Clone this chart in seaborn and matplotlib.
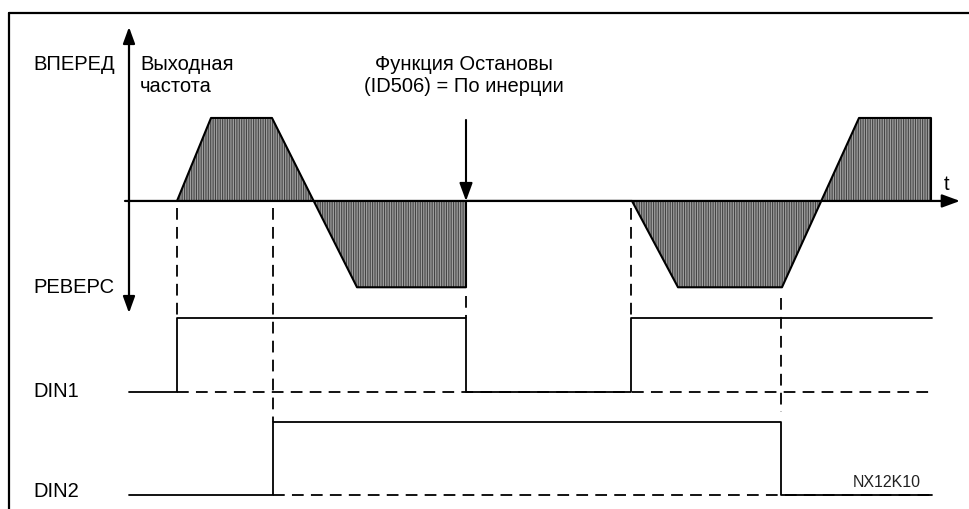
import matplotlib
matplotlib.use("Agg")
import matplotlib.pyplot as plt
import numpy as np
import pandas as pd
import seaborn as sns

# ---- data -------------------------------------------------------------
# output frequency profile: breakpoints (time, frequency)
freq_t = [4.8, 8.2, 14.3, 22.8, 33.7, 33.7, 50.3, 54.9, 65.3, 73.0, 80.2, 80.2]
freq_f = [0, 50, 50, -52, -52, 0, 0, -52, -52, 50, 50, 0]

# digital inputs: transition times and levels (step-post)
din1_t = [0.0, 4.8, 33.7, 50.2, 80.3]
din1_v = [0, 1, 0, 1, 1]
din2_t = [0.0, 14.4, 65.2, 80.3]
din2_v = [0, 1, 0, 0]

stop_time = 33.7                 # coast stop event
t_min, t_max = -12.9, 84.1       # visible time range
axis_t = (-0.4, 83.1)            # extent of the time axis arrow

# ---- style ------------------------------------------------------------
sns.set_theme(style="white")
plt.rcParams["font.family"] = ["Liberation Sans", "DejaVu Sans"]
plt.rcParams["hatch.linewidth"] = 0.8

W, H = 970, 509
fig = plt.figure(figsize=(W / 100, H / 100), dpi=100)
fig.patch.set_facecolor("white")


def fx(px):
    return px / W


def fy(py):
    return 1 - py / H


def band_axes(top_px, bottom_px, y_lo, y_hi):
    ax = fig.add_axes([0, fy(bottom_px), 1, (bottom_px - top_px) / H])
    ax.set_xlim(t_min, t_max)
    ax.set_ylim(y_lo, y_hi)
    ax.set_axis_off()
    ax.patch.set_alpha(0)
    return ax


# overlay in (time, pixel-row) coordinates for frame and guide lines
ov = band_axes(0, H, H, 0)

# frame (open to the right and bottom)
ov.plot([t_min + 0.9, t_min + 0.9], [13, H + 5], color="black", lw=1.6, clip_on=False)
ov.plot([t_min + 0.9, t_max + 1], [13, 13], color="black", lw=1.6, clip_on=False)

# ---- frequency panel --------------------------------------------------
ax_f = band_axes(27, 313, -67.5, 104.8)

ax_f.fill_between(freq_t, freq_f, 0, facecolor="#a0a0a0", edgecolor="#444444",
                  hatch="|" * 7, linewidth=0, zorder=1)
prof = pd.DataFrame({"t": freq_t, "f": freq_f})
sns.lineplot(data=prof, x="t", y="f", ax=ax_f, estimator=None, sort=False,
             color="black", lw=1.5, zorder=3)

# time axis with arrow
ax_f.annotate("", xy=(axis_t[1], 0), xytext=(axis_t[0], 0),
              arrowprops=dict(arrowstyle="-|>,head_length=0.6,head_width=0.22",
                              mutation_scale=18, color="black", lw=1.6,
                              shrinkA=0, shrinkB=0), zorder=2)
# frequency axis, double headed
ax_f.annotate("", xy=(0, 104.8), xytext=(0, -67.5),
              arrowprops=dict(arrowstyle="<|-|>,head_length=0.55,head_width=0.2",
                              mutation_scale=18, color="black", lw=1.6,
                              shrinkA=0, shrinkB=0), zorder=2)
# coast-stop marker
ax_f.annotate("", xy=(stop_time, 0), xytext=(stop_time, 48.8),
              arrowprops=dict(arrowstyle="-|>,head_length=0.6,head_width=0.22",
                              mutation_scale=18, color="black", lw=1.5,
                              shrinkA=0, shrinkB=0), zorder=4)

# ---- digital input panels --------------------------------------------
ax_d1 = band_axes(300, 410, -18 / 74, 1 + 18 / 74)
ax_d2 = band_axes(405, 509, -14 / 73, 1 + 17 / 73)

dash = (0, (6.5, 4))
for ax, tt, vv in ((ax_d1, din1_t, din1_v), (ax_d2, din2_t, din2_v)):
    df = pd.DataFrame({"t": tt, "v": vv})
    sns.lineplot(data=df, x="t", y="v", ax=ax, estimator=None, sort=False,
                 drawstyle="steps-post", color="black", lw=1.3)
    ax.plot([tt[1], tt[-1]], [0, 0], color="black", lw=1.3, linestyle=dash)

# dashed guides linking events across panels (time, pixel rows)
guides = [
    (din1_t[1], 208, 318),
    (din2_t[1], 208, 422),
    (din1_t[2], 296, 318),
    (din1_t[3], 208, 316),
    (din2_t[2], 298, 412),
]
for t, y0, y1 in guides:
    ov.plot([t, t], [y0, y1], color="black", lw=1.3, linestyle=dash)

# ---- labels -------------------------------------------------------------
fs = 14.5
txt = dict(fontsize=fs, color="black", va="baseline")
fig.text(fx(33), fy(70), "ВПЕРЕД", ha="left", **txt)
fig.text(fx(140), fy(70), "Выходная", ha="left", **txt)
fig.text(fx(140), fy(92), "частота", ha="left", **txt)
fig.text(fx(33), fy(293), "РЕВЕРС", ha="left", **txt)
fig.text(fx(33), fy(397), "DIN1", ha="left", **txt)
fig.text(fx(33), fy(497), "DIN2", ha="left", **txt)
x_stop = (stop_time - t_min) / (t_max - t_min)
fig.text(x_stop - fx(2), fy(70), "Функция Остановы", ha="center", **txt)
fig.text(x_stop - fx(2), fy(92), "(ID506) = По инерции", ha="center", **txt)
fig.text(fx(944), fy(190), "t", ha="left", **txt)
fig.text(fx(853), fy(487), "NX12K10", ha="left", fontsize=11.5, color="#222222",
         va="baseline")

fig.savefig("out.png", dpi=100, facecolor="white")
